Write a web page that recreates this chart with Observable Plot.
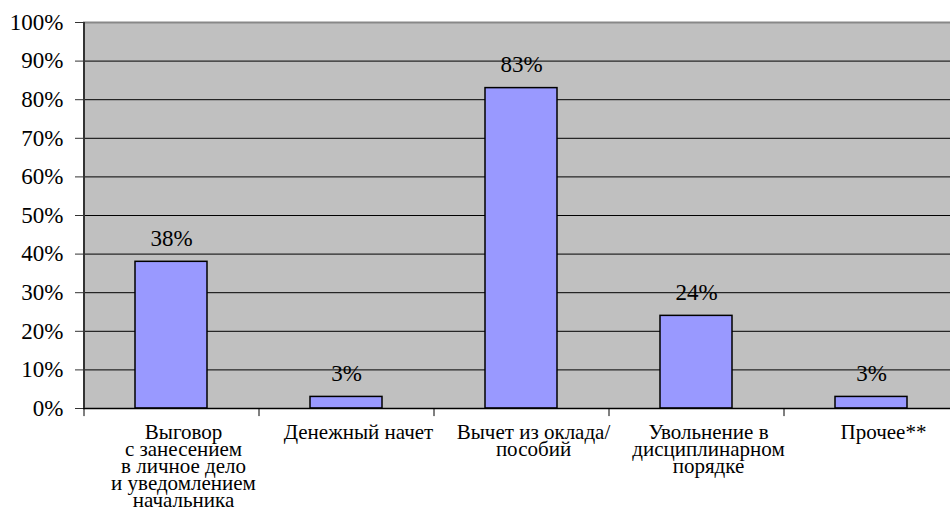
<!DOCTYPE html>
<html><head><meta charset="utf-8">
<script src="https://cdn.jsdelivr.net/npm/d3@7"></script>
<script src="https://cdn.jsdelivr.net/npm/@observablehq/plot@0.6"></script>
<style>body{margin:0;background:#fff}</style>
</head><body><div id="chart"></div>
<script>
const categories = [
  "Выговор\nс занесением\nв личное дело\nи уведомлением\nначальника",
  "Денежный начет",
  "Вычет из оклада/\nпособий",
  "Увольнение в\nдисциплинарном\nпорядке",
  "Прочее**"
];
const values = [38, 3, 83, 24, 3];
const yTicks = [0,10,20,30,40,50,60,70,80,90,100];

const data = categories.map((c, i) => ({cat: c, v: values[i]}));
const x0 = 83, x1 = 958;
const step = (x1 - x0) / categories.length;
const font = "Times New Roman";

const chart = Plot.plot({
  width: 950, height: 518,
  marginLeft: 83, marginRight: 0, marginTop: 22, marginBottom: 110,
  style: {background: "#fff", overflow: "visible", fontFamily: "serif"},
  x: {domain: categories, range: [x0, x1], paddingInner: 0.59, paddingOuter: 0.295, axis: null},
  y: {domain: [0, 100], axis: null},
  marks: [
    Plot.frame({fill: "#C0C0C0", stroke: null}),
    Plot.ruleY(yTicks, {stroke: "#000", strokeWidth: 1}),
    Plot.ruleY([100], {stroke: "#888", strokeWidth: 2}),
    Plot.axisY({ticks: yTicks, tickFormat: d => d + "%", tickSize: 8, tickPadding: 12, fontSize: 23, fontFamily: font, label: null, stroke: "#333", color: "#000"}),
    Plot.barY(data, {x: "cat", y: "v", fill: "#9999FF", stroke: "#000", strokeWidth: 1.5}),
    Plot.text(data, {x: "cat", y: "v", text: d => d.v + "%", dy: -23, fontSize: 23, fontFamily: font, fill: "#000"}),
    Plot.ruleY([0], {stroke: "#000", strokeWidth: 1.5}),
    Plot.ruleX([categories[0]], {y1: 0, y2: 100, dx: -step / 2, stroke: "#333", strokeWidth: 2}),
    Plot.ruleX(categories, {y1: 0, y2: -2.1, dx: -step / 2, stroke: "#000"}),
    Plot.text(data, {x: "cat", y: 0, text: "cat", dy: 19, dx: 12, lineAnchor: "top", lineHeight: 0.8, fontSize: 21, fontFamily: font, fill: "#000"})
  ]
});
chart.setAttribute("font-family", font);
document.getElementById("chart").appendChild(chart);
</script>
</body></html>
